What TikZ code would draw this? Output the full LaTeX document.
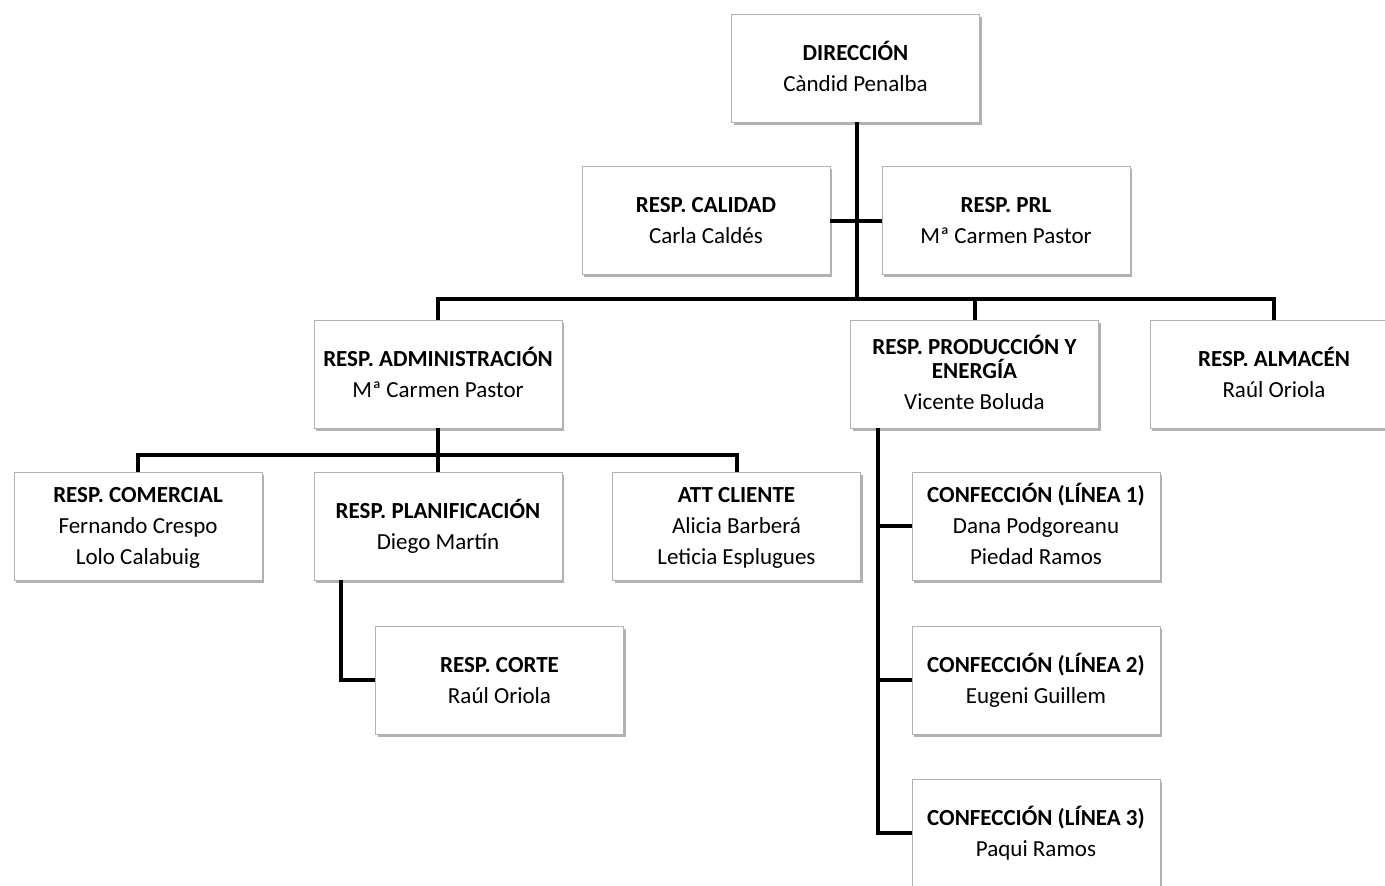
\documentclass[tikz,border=0pt]{standalone}
\usepackage{fontspec}
\setmainfont{Carlito}
\usetikzlibrary{shadows}

\tikzset{
  box/.style={draw=black!30, fill=white, line width=0.8pt,
    minimum width=248pt, minimum height=108pt, inner sep=0pt,
    align=center, font=\fontsize{23}{24}\selectfont,
    drop shadow={shadow xshift=2pt, shadow yshift=-2.5pt, fill=black, opacity=0.3}},
  conn/.style={line width=4pt, black}
}
\newcommand{\ttl}[1]{\textbf{\vphantom{Í}#1}}
\newcommand{\who}[1]{\vphantom{Ág}#1}

\begin{document}
\begin{tikzpicture}[x=1pt,y=-1pt]
  \useasboundingbox (0,0) rectangle (1385,886);
  \fill[white] (0,0) rectangle (1385,886);

  \coordinate (bus1) at (857,299);
  \coordinate (bus2) at (438,455);
  \coordinate (plink) at (341,428);
  \coordinate (ptrunk) at (878,428);

  \node[box] (dir)  at (855.5,68)  {\ttl{DIRECCIÓN}\\[7pt]\who{Càndid Penalba}};
  \node[box] (cal)  at (706,220.5) {\ttl{RESP. CALIDAD}\\[7pt]\who{Carla Caldés}};
  \node[box] (prl)  at (1006,220.5){\ttl{RESP. PRL}\\[7pt]\who{Mª Carmen Pastor}};
  \node[box] (adm)  at (438,374)   {\ttl{RESP. ADMINISTRACIÓN}\\[7pt]\who{Mª Carmen Pastor}};
  \node[box] (prod) at (974.5,374) {\ttl{RESP. PRODUCCIÓN Y}\\\ttl{ENERGÍA}\\[7pt]\who{Vicente Boluda}};
  \node[box] (alm)  at (1274,374)  {\ttl{RESP. ALMACÉN}\\[7pt]\who{Raúl Oriola}};
  \node[box] (com)  at (138,526)   {\ttl{RESP. COMERCIAL}\\[7pt]Fernando Crespo\\[7pt]\who{Lolo Calabuig}};
  \node[box] (pla)  at (438,526)   {\ttl{RESP. PLANIFICACIÓN}\\[7pt]\who{Diego Martín}};
  \node[box] (att)  at (736.5,526) {\ttl{ATT CLIENTE}\\[7pt]Alicia Barberá\\[7pt]\who{Leticia Esplugues}};
  \node[box] (cor)  at (499.5,680) {\ttl{RESP. CORTE}\\[7pt]\who{Raúl Oriola}};
  \node[box] (l1)   at (1036,526)  {\ttl{CONFECCIÓN (LÍNEA 1)}\\[7pt]Dana Podgoreanu\\[7pt]\who{Piedad Ramos}};
  \node[box] (l2)   at (1036,680)  {\ttl{CONFECCIÓN (LÍNEA 2)}\\[7pt]\who{Eugeni Guillem}};
  \node[box] (l3)   at (1036,833)  {\ttl{CONFECCIÓN (LÍNEA 3)}\\[7pt]\who{Paqui Ramos}};

  % connectors
  \draw[conn] (dir.south -| bus1) -- (bus1);
  \draw[conn] (cal.east) -- (prl.west);
  \draw[conn] (bus1) -| (adm.north);
  \draw[conn] (bus1) -| (alm.north);
  \draw[conn] (bus1 -| prod.north) -- (prod.north);
  \draw[conn] (adm.south) -- (bus2);
  \draw[conn] (bus2) -| (com.north);
  \draw[conn] (bus2) -| (att.north);
  \draw[conn] (bus2) -- (pla.north);
  \draw[conn] (plink |- pla.south) |- (cor.west);
  \draw[conn] (ptrunk) |- (l1.west);
  \draw[conn] (ptrunk) |- (l2.west);
  \draw[conn] (ptrunk) |- (l3.west);
\end{tikzpicture}
\end{document}
